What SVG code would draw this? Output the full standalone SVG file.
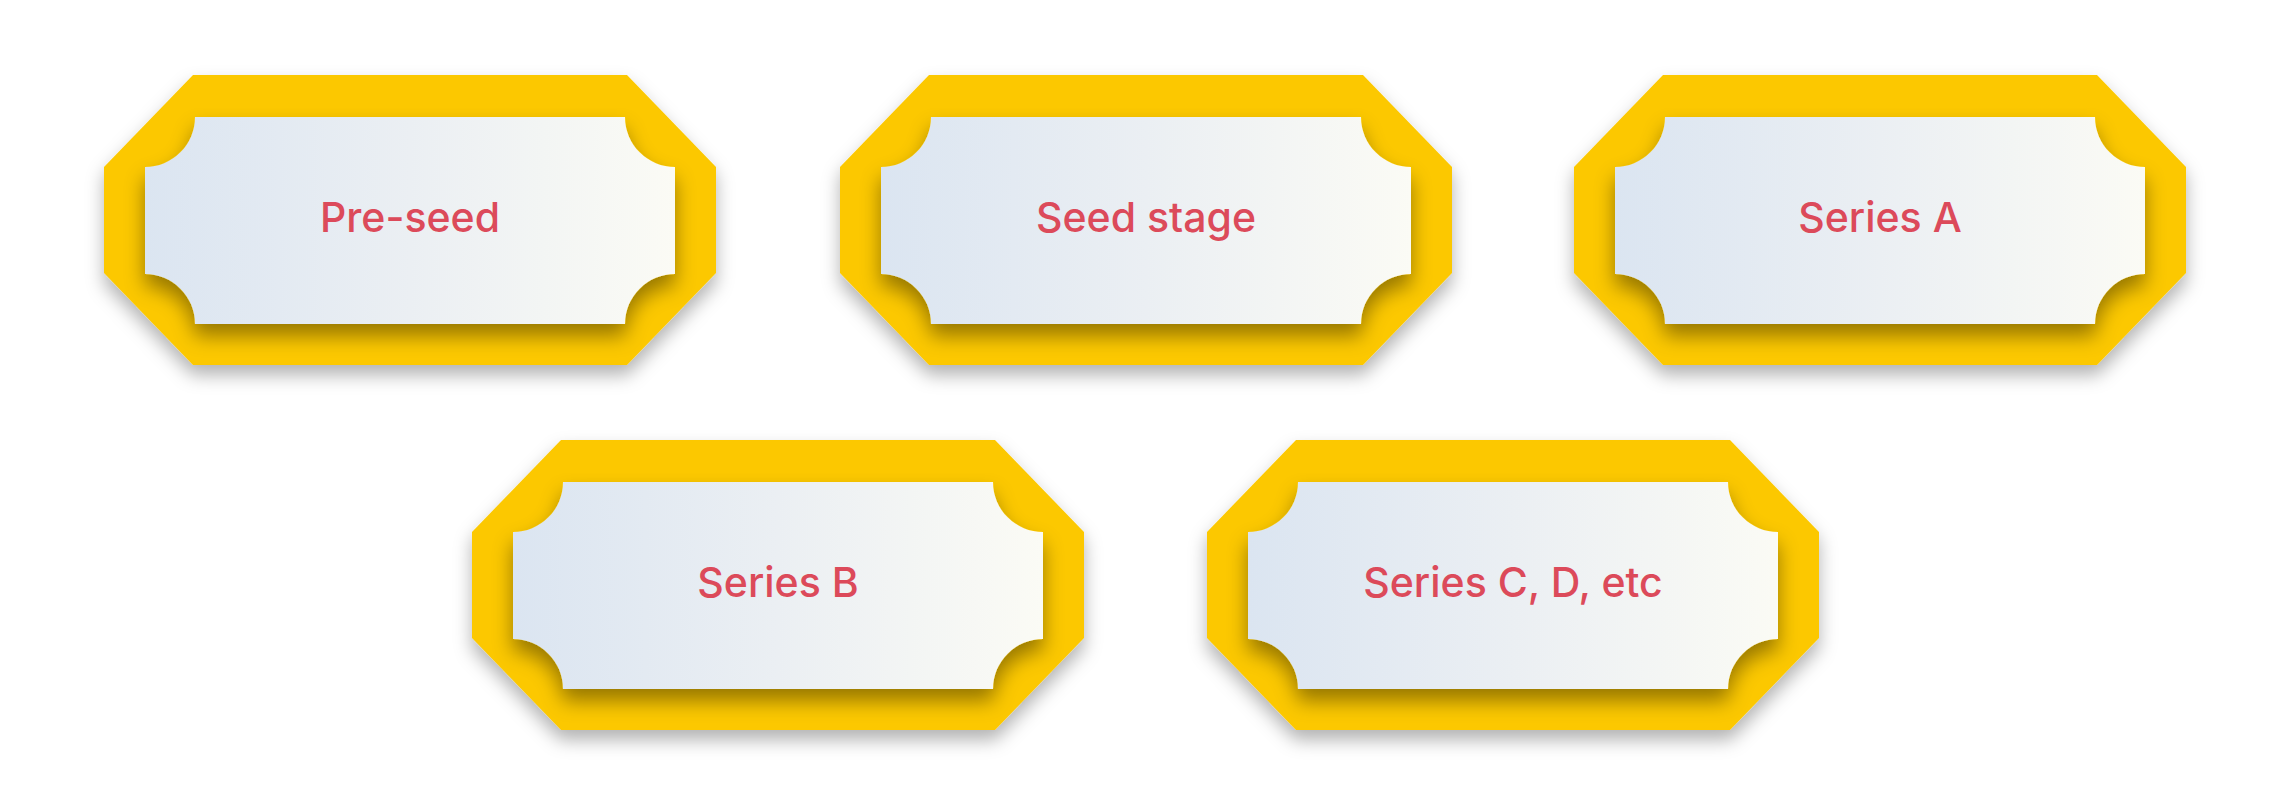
<svg xmlns="http://www.w3.org/2000/svg" width="2292" height="806" viewBox="0 0 2292 806">
  <defs>
    <linearGradient id="card" x1="0" y1="0" x2="1" y2="0">
      <stop offset="0" stop-color="#dbe5f1"/>
      <stop offset="0.5" stop-color="#ebeff3"/>
      <stop offset="1" stop-color="#fbfbf5"/>
    </linearGradient>
    <filter id="outerShadow" x="-10%" y="-10%" width="120%" height="130%">
      <feGaussianBlur in="SourceAlpha" stdDeviation="9"/>
      <feOffset dx="0" dy="10" result="b"/>
      <feFlood flood-color="#000" flood-opacity="0.3"/>
      <feComposite in2="b" operator="in"/>
      <feMerge><feMergeNode/><feMergeNode in="SourceGraphic"/></feMerge>
    </filter>
    <filter id="innerShadow" x="-10%" y="-10%" width="120%" height="140%">
      <feGaussianBlur in="SourceAlpha" stdDeviation="10"/>
      <feOffset dx="0" dy="12" result="b"/>
      <feFlood flood-color="#000" flood-opacity="0.4"/>
      <feComposite in2="b" operator="in"/>
      <feMerge><feMergeNode/><feMergeNode in="SourceGraphic"/></feMerge>
    </filter>
    <clipPath id="octClip">
      <path d="M89,0 H523 L612,92 V198 L523,290 H89 L0,198 V92 Z"/>
    </clipPath>
    <path id="oct" d="M89,0 H523 L612,92 V198 L523,290 H89 L0,198 V92 Z"/>
    <path id="plate" d="M91,42 H521 A50,50 0 0 0 571,92 V199 A50,50 0 0 0 521,249 H91 A50,50 0 0 0 41,199 V92 A50,50 0 0 0 91,42 Z"/>
  </defs>
  <style>
    .frame { fill: #fcc800; }
    .plate { fill: url(#card); }
    .label { font-family: "Inter", "Open Sans", "Liberation Sans", sans-serif; font-size: 41px; font-weight: 500; fill: #dc4a5a; text-anchor: middle; }
  </style>
  <rect width="2292" height="806" fill="#ffffff"/>

  <g id="node-preseed" transform="translate(104,75)">
    <use href="#oct" class="frame" filter="url(#outerShadow)"/>
    <g clip-path="url(#octClip)"><use href="#plate" class="plate" filter="url(#innerShadow)"/></g>
    <text class="label" x="306" y="157">Pre-seed</text>
  </g>

  <g id="node-seed" transform="translate(840,75)">
    <use href="#oct" class="frame" filter="url(#outerShadow)"/>
    <g clip-path="url(#octClip)"><use href="#plate" class="plate" filter="url(#innerShadow)"/></g>
    <text class="label" x="306" y="157">Seed stage</text>
  </g>

  <g id="node-series-a" transform="translate(1574,75)">
    <use href="#oct" class="frame" filter="url(#outerShadow)"/>
    <g clip-path="url(#octClip)"><use href="#plate" class="plate" filter="url(#innerShadow)"/></g>
    <text class="label" x="306" y="157">Series A</text>
  </g>

  <g id="node-series-b" transform="translate(472,440)">
    <use href="#oct" class="frame" filter="url(#outerShadow)"/>
    <g clip-path="url(#octClip)"><use href="#plate" class="plate" filter="url(#innerShadow)"/></g>
    <text class="label" x="306" y="157">Series B</text>
  </g>

  <g id="node-series-cd" transform="translate(1207,440)">
    <use href="#oct" class="frame" filter="url(#outerShadow)"/>
    <g clip-path="url(#octClip)"><use href="#plate" class="plate" filter="url(#innerShadow)"/></g>
    <text class="label" x="306" y="157">Series C, D, etc</text>
  </g>

  <g id="connectors"/>
</svg>
